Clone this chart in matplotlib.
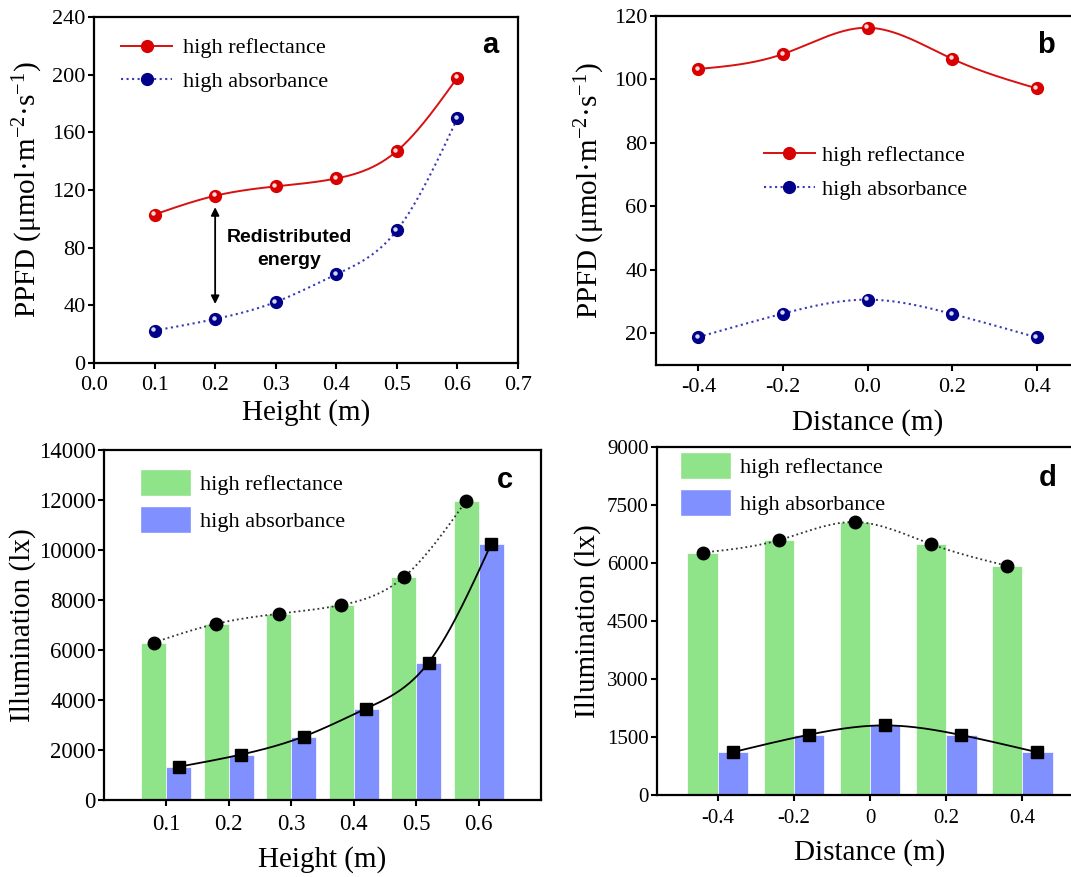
import numpy as np
import matplotlib
matplotlib.use("Agg")
import matplotlib.pyplot as plt
from matplotlib.transforms import offset_copy
from matplotlib.lines import Line2D
from matplotlib.patches import Patch

plt.rcParams['font.family'] = ['Liberation Serif', 'DejaVu Serif']
plt.rcParams['mathtext.fontset'] = 'custom'
plt.rcParams['mathtext.rm'] = 'Liberation Serif'
plt.rcParams['mathtext.it'] = 'Liberation Serif:italic'
plt.rcParams['axes.unicode_minus'] = False

# ---------------- data ----------------
height = [0.1, 0.2, 0.3, 0.4, 0.5, 0.6]
ppfd_refl_h = [103, 116, 122.5, 128, 147, 198]
ppfd_abs_h = [22.5, 30.5, 42.3, 61.5, 92, 169.8]

distance = [-0.4, -0.2, 0.0, 0.2, 0.4]
ppfd_refl_d = [103.3, 108, 116.3, 106.5, 97.2]
ppfd_abs_d = [18.8, 26.2, 30.6, 26.1, 18.7]

illum_refl_h = [6300, 7050, 7450, 7800, 8910, 11960]
illum_abs_h = [1330, 1820, 2540, 3660, 5500, 10230]

illum_refl_d = [6270, 6590, 7060, 6490, 5930]
illum_abs_d = [1110, 1560, 1800, 1550, 1105]

height_ticks = ['0.0', '0.1', '0.2', '0.3', '0.4', '0.5', '0.6', '0.7']
dist_ticks_b = ['-0.4', '-0.2', '0.0', '0.2', '0.4']
dist_ticks_d = ['-0.4', '-0.2', '0', '0.2', '0.4']
labels = ['high reflectance', 'high absorbance']

RED = '#d80000'
RED_LINE = '#d81010'
NAVY = '#00008b'
BLUE_LINE = '#3a3ab8'
GREEN_BAR = '#8fe388'
BLUE_BAR = '#8090ff'


def spline(x, y, n=200):
    """Natural cubic spline through the points (for drawing the smooth connector)."""
    x = np.asarray(x, float)
    y = np.asarray(y, float)
    m = len(x)
    h = np.diff(x)
    A = np.zeros((m, m))
    r = np.zeros(m)
    A[0, 0] = A[-1, -1] = 1
    for i in range(1, m - 1):
        A[i, i - 1] = h[i - 1]
        A[i, i] = 2 * (h[i - 1] + h[i])
        A[i, i + 1] = h[i]
        r[i] = 6 * ((y[i + 1] - y[i]) / h[i] - (y[i] - y[i - 1]) / h[i - 1])
    M = np.linalg.solve(A, r)
    xs = np.linspace(x[0], x[-1], n)
    idx = np.clip(np.searchsorted(x, xs) - 1, 0, m - 2)
    x0, x1 = x[idx], x[idx + 1]
    hh = x1 - x0
    t1 = x1 - xs
    t0 = xs - x0
    ys = (M[idx] * t1 ** 3 / (6 * hh) + M[idx + 1] * t0 ** 3 / (6 * hh)
          + (y[idx] / hh - M[idx] * hh / 6) * t1 + (y[idx + 1] / hh - M[idx + 1] * hh / 6) * t0)
    return xs, ys


def balls(ax, x, y, color):
    ax.plot(x, y, 'o', ms=8.5, color=color, mec=color, zorder=5)
    tr = offset_copy(ax.transData, fig=ax.figure, x=-1.0, y=1.0, units='points')
    ax.plot(x, y, 'o', ms=3.2, color='white', mec='none', alpha=0.85, transform=tr, zorder=6)


def style(ax, size=15.5):
    for s in ax.spines.values():
        s.set_linewidth(1.6)
    ax.tick_params(direction='out', length=4, width=1.5, labelsize=size, pad=2)


fig = plt.figure(figsize=(10.71, 8.77), dpi=100)
W, H = 1071.0, 877.0


def add_axes(l, r, t, b):
    return fig.add_axes([l / W, 1 - b / H, (r - l) / W, (b - t) / H])


ylab_ppfd = 'PPFD (μmol·m$^{-2}$·s$^{-1}$)'

# ---------------- panel a ----------------
ax = add_axes(94, 518, 17, 363)
xs, ys = spline(height, ppfd_refl_h)
ax.plot(xs, ys, '-', color=RED_LINE, lw=1.4)
xs, ys = spline(height, ppfd_abs_h)
ax.plot(xs, ys, ':', color=BLUE_LINE, lw=1.5)
balls(ax, height, ppfd_refl_h, RED)
balls(ax, height, ppfd_abs_h, NAVY)
ax.set_xlim(0, 0.7)
ax.set_ylim(0, 240)
ax.set_xticks(np.arange(8) * 0.1)
ax.set_xticklabels(height_ticks)
ax.set_yticks(np.arange(0, 241, 40))
style(ax, 16)
ax.tick_params(axis='x', pad=5)
ax.set_xlabel('Height (m)', fontsize=21, labelpad=3)
ax.set_ylabel(ylab_ppfd, fontsize=21, labelpad=5)
ax.annotate('', xy=(0.2, 39), xytext=(0.2, 110),
            arrowprops=dict(arrowstyle='<|-|>', color='black', lw=1.3, mutation_scale=12))
ax.text(0.322, 79, 'Redistributed\nenergy', ha='center', va='center', fontsize=14,
        fontweight='bold', family='Liberation Sans', linespacing=1.5)
ax.text(0.934, 0.92, 'a', transform=ax.transAxes, ha='center', va='center',
        fontsize=21, fontweight='bold', family='Liberation Sans')
h1 = Line2D([], [], color=RED_LINE, lw=1.4, marker='o', ms=8.5, mfc=RED, mec=RED)
h2 = Line2D([], [], color=BLUE_LINE, lw=1.5, ls=':', marker='o', ms=8.5, mfc=NAVY, mec=NAVY)
ax.legend([h1, h2], labels, loc='upper left', bbox_to_anchor=(0.064, 0.94), frameon=False,
          fontsize=16, borderpad=0, borderaxespad=0, handlelength=2.3, handletextpad=0.5,
          labelspacing=0.6, numpoints=1)

# ---------------- panel b ----------------
ax = add_axes(656, 1079, 16, 365)
xs, ys = spline(distance, ppfd_refl_d)
ax.plot(xs, ys, '-', color=RED_LINE, lw=1.4)
xs, ys = spline(distance, ppfd_abs_d)
ax.plot(xs, ys, ':', color=BLUE_LINE, lw=1.5)
balls(ax, distance, ppfd_refl_d, RED)
balls(ax, distance, ppfd_abs_d, NAVY)
ax.set_xlim(-0.5, 0.5)
ax.set_ylim(10, 120)
ax.set_xticks(distance)
ax.set_xticklabels(dist_ticks_b)
ax.set_yticks(np.arange(20, 121, 20))
style(ax, 16)
ax.tick_params(axis='x', pad=5)
ax.set_xlabel('Distance (m)', fontsize=21, labelpad=9)
ax.set_ylabel(ylab_ppfd, fontsize=21, labelpad=5)
ax.text(0.922, 0.917, 'b', transform=ax.transAxes, ha='center', va='center',
        fontsize=21, fontweight='bold', family='Liberation Sans')
ax.legend([h1, h2], labels, loc='upper left', bbox_to_anchor=(0.255, 0.63), frameon=False,
          fontsize=16, borderpad=0, borderaxespad=0, handlelength=2.3, handletextpad=0.3,
          labelspacing=0.6, numpoints=1)

# ---------------- panel c ----------------
ax = add_axes(104, 541, 450, 800)
hx = np.array(height)
ax.bar(hx - 0.02, illum_refl_h, width=0.04, color=GREEN_BAR, edgecolor='white', lw=0.5)
ax.bar(hx + 0.02, illum_abs_h, width=0.04, color=BLUE_BAR, edgecolor='white', lw=0.5)
xs, ys = spline(hx - 0.02, illum_refl_h)
ax.plot(xs, ys, ':', color='#333333', lw=1.3)
xs, ys = spline(hx + 0.02, illum_abs_h)
ax.plot(xs, ys, '-', color='black', lw=1.3)
ax.plot(hx - 0.02, illum_refl_h, 'o', color='black', ms=9, zorder=5)
ax.plot(hx + 0.02, illum_abs_h, 's', color='black', ms=9, zorder=5)
ax.set_xlim(0, 0.7)
ax.set_ylim(0, 14000)
ax.set_xticks(hx)
ax.set_xticklabels(height_ticks[1:7])
ax.set_yticks(np.arange(0, 14001, 2000))
style(ax, 16.5)
ax.tick_params(axis='x', pad=6)
ax.set_xlabel('Height (m)', fontsize=21, labelpad=8)
ax.set_ylabel('Illumination (lx)', fontsize=21, labelpad=2)
ax.text(0.918, 0.914, 'c', transform=ax.transAxes, ha='center', va='center',
        fontsize=21, fontweight='bold', family='Liberation Sans')
p1 = Patch(facecolor=GREEN_BAR, edgecolor='white')
p2 = Patch(facecolor=BLUE_BAR, edgecolor='white')
ax.legend([p1, p2], labels, loc='upper left', bbox_to_anchor=(0.082, 0.945), frameon=False,
          fontsize=16, borderpad=0, borderaxespad=0, handlelength=2.3, handleheight=1.5,
          handletextpad=0.4, labelspacing=0.45)

# ---------------- panel d ----------------
ax = add_axes(657, 1083, 447, 795)
dx = np.array(distance)
ax.bar(dx - 0.04, illum_refl_d, width=0.08, color=GREEN_BAR, edgecolor='white', lw=0.5)
ax.bar(dx + 0.04, illum_abs_d, width=0.08, color=BLUE_BAR, edgecolor='white', lw=0.5)
xs, ys = spline(dx - 0.04, illum_refl_d)
ax.plot(xs, ys, ':', color='#333333', lw=1.3)
xs, ys = spline(dx + 0.04, illum_abs_d)
ax.plot(xs, ys, '-', color='black', lw=1.3)
ax.plot(dx - 0.04, illum_refl_d, 'o', color='black', ms=9, zorder=5)
ax.plot(dx + 0.04, illum_abs_d, 's', color='black', ms=9, zorder=5)
ax.set_xlim(-0.56, 0.56)
ax.set_ylim(0, 9000)
ax.set_xticks(dx)
ax.set_xticklabels(dist_ticks_d)
ax.set_yticks(np.arange(0, 9001, 1500))
style(ax, 15)
ax.tick_params(axis='x', pad=6)
ax.set_xlabel('Distance (m)', fontsize=21, labelpad=8)
ax.set_ylabel('Illumination (lx)', fontsize=21, labelpad=4)
ax.text(0.916, 0.911, 'd', transform=ax.transAxes, ha='center', va='center',
        fontsize=21, fontweight='bold', family='Liberation Sans')
ax.legend([p1, p2], labels, loc='upper left', bbox_to_anchor=(0.054, 0.985), frameon=False,
          fontsize=16, borderpad=0, borderaxespad=0, handlelength=2.3, handleheight=1.5,
          handletextpad=0.4, labelspacing=0.45)

fig.savefig('out.png', dpi=100)
